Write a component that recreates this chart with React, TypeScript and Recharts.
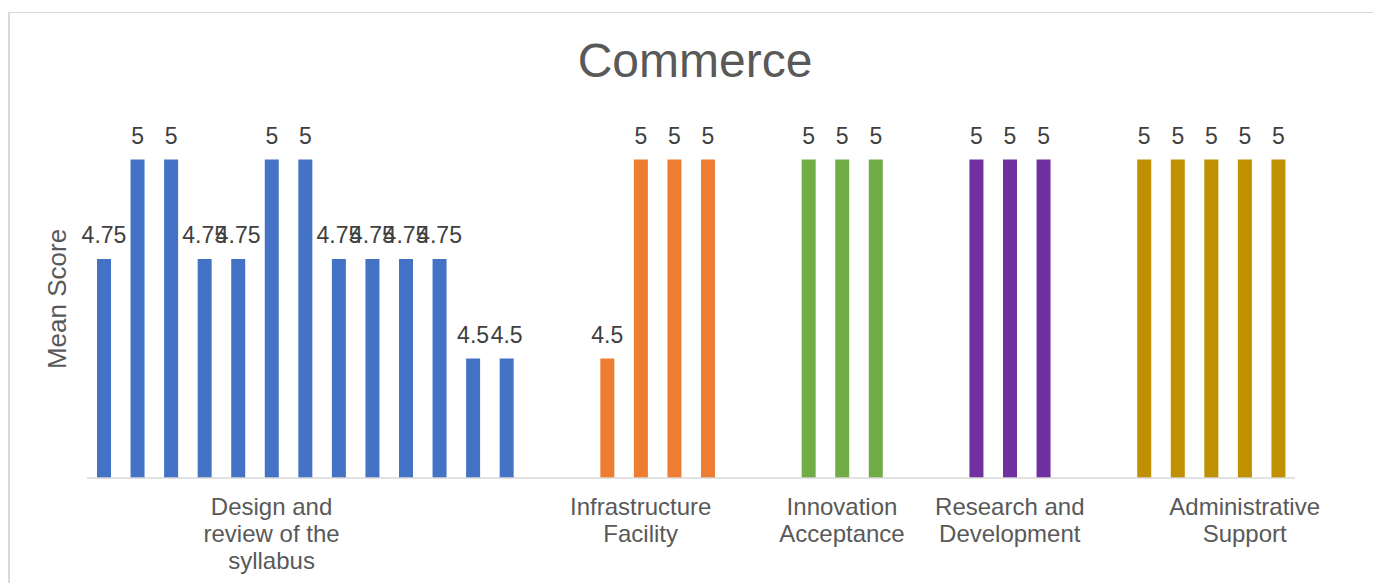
import React from 'react';
import { BarChart, Bar, XAxis, YAxis, Cell, LabelList } from 'recharts';

const categories = [
  'Design and review of the syllabus',
  'Infrastructure Facility',
  'Innovation Acceptance',
  'Research and Development',
  'Administrative Support',
];

const designSyllabus = [4.75, 5, 5, 4.75, 4.75, 5, 5, 4.75, 4.75, 4.75, 4.75, 4.5, 4.5];
const infrastructure = [4.5, 5, 5, 5];
const innovation = [5, 5, 5];
const research = [5, 5, 5];
const administrative = [5, 5, 5, 5, 5];

const groups = [designSyllabus, infrastructure, innovation, research, administrative];
const colors = ['#4472C4', '#ED7D31', '#70AD47', '#7030A0', '#BF9000'];
// which bar of each group the category label sits under
const labelSlot = [5, 1, 1, 1, 3];
const gapSlots = 2;

const font = '"Liberation Sans", Arial, sans-serif';

type Row = { slot: number; value: number | null; color: string; label: string };

const rows: Row[] = [];
groups.forEach((values, gi) => {
  if (gi > 0) {
    for (let k = 0; k < gapSlots; k++) {
      rows.push({ slot: rows.length, value: null, color: 'none', label: '' });
    }
  }
  values.forEach((v, i) => {
    rows.push({
      slot: rows.length,
      value: v,
      color: colors[gi],
      label: i === labelSlot[gi] ? categories[gi] : '',
    });
  });
});

const wrap = (text: string, max = 14) => {
  const lines: string[] = [];
  let cur = '';
  text.split(' ').forEach((w) => {
    if (cur && (cur + ' ' + w).length > max) {
      lines.push(cur);
      cur = w;
    } else {
      cur = cur ? cur + ' ' + w : w;
    }
  });
  if (cur) lines.push(cur);
  return lines;
};

const CategoryTick = (props: any) => {
  const { x, y, payload } = props;
  const row = rows[payload.value];
  if (!row || !row.label) return null;
  return (
    <text x={x} y={y} textAnchor="middle" fill="#595959" fontSize={24} fontFamily={font}>
      {wrap(row.label).map((line, i) => (
        <tspan key={i} x={x} dy={i === 0 ? 37 : 27}>
          {line}
        </tspan>
      ))}
    </text>
  );
};

const YTitle = () => (
  <text
    x={47}
    y={286}
    transform="rotate(-90, 47, 286)"
    textAnchor="middle"
    dominantBaseline="central"
    fill="#595959"
    fontSize={26}
    fontFamily={font}
  >
    Mean Score
  </text>
);

const App = () => {
  return (
    <div
      style={{
        position: 'fixed',
        left: 8,
        top: 12,
        width: 1365,
        height: 571,
        borderTop: '1px solid #d9d9d9',
        borderLeft: '2px solid #d9d9d9',
        background: '#fff',
      }}
    >
      <div
        style={{
          position: 'absolute',
          left: 0,
          width: 1370,
          top: 24,
          textAlign: 'center',
          fontFamily: font,
          fontSize: 48,
          lineHeight: '48px',
          color: '#595959',
        }}
      >
        Commerce
      </div>
      <BarChart
        width={1363}
        height={570}
        data={rows}
        barSize={14}
        margin={{ top: 67, right: 78, left: 0, bottom: 5 }}
      >
        <XAxis
          dataKey="slot"
          type="category"
          interval={0}
          height={100}
          tickLine={false}
          tickSize={0}
          tickMargin={0}
          axisLine={{ stroke: '#d9d9d9', strokeWidth: 1.5 }}
          tick={<CategoryTick />}
        />
        <YAxis
          type="number"
          domain={[4.2, 5.2]}
          allowDataOverflow
          width={77}
          tick={false}
          tickLine={false}
          axisLine={false}
          label={<YTitle />}
        />
        <Bar dataKey="value" isAnimationActive={false}>
          {rows.map((r) => (
            <Cell key={r.slot} fill={r.color} />
          ))}
          <LabelList
            dataKey="value"
            position="top"
            offset={16}
            fill="#404040"
            fontSize={23}
            fontFamily={font}
          />
        </Bar>
      </BarChart>
    </div>
  );
};

export default App;
